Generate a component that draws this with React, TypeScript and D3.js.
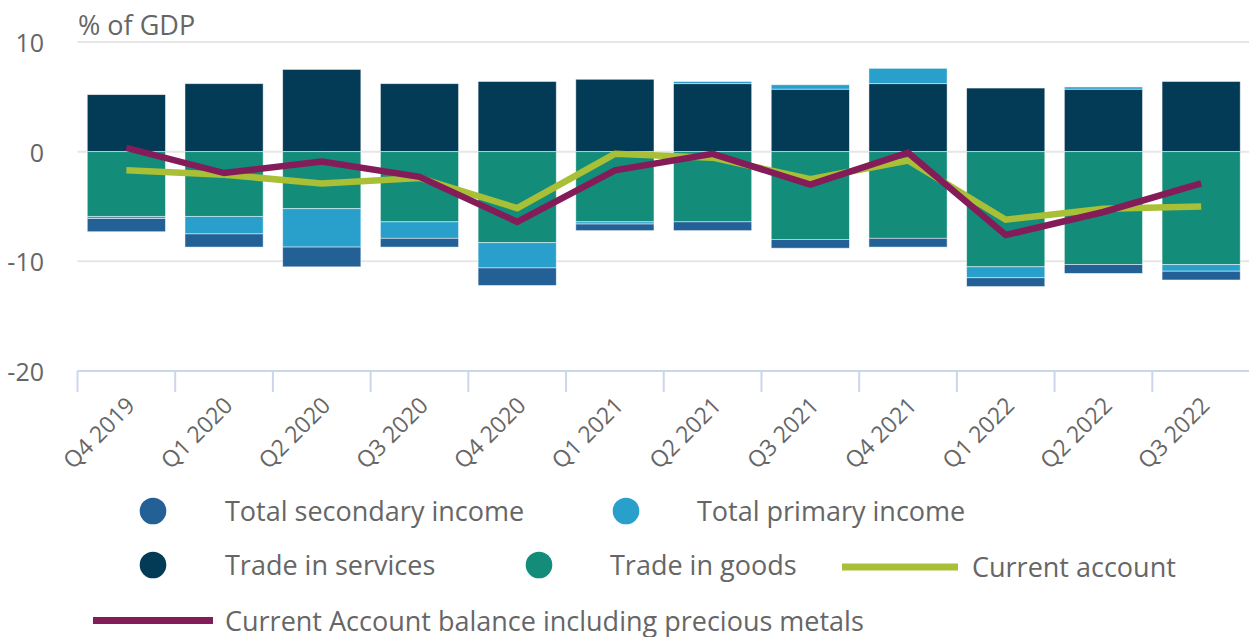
import React from "react";
import * as d3 from "d3";

const categories = [
  "Q4 2019", "Q1 2020", "Q2 2020", "Q3 2020", "Q4 2020", "Q1 2021",
  "Q2 2021", "Q3 2021", "Q4 2021", "Q1 2022", "Q2 2022", "Q3 2022",
];
const tradeInServices = [5.2, 6.2, 7.5, 6.2, 6.4, 6.6, 6.2, 5.7, 6.2, 5.8, 5.7, 6.4];
const tradeInGoods = [-5.9, -5.9, -5.2, -6.4, -8.3, -6.4, -6.4, -8.0, -7.9, -10.5, -10.3, -10.3];
const totalPrimaryIncome = [-0.2, -1.6, -3.5, -1.5, -2.3, -0.2, 0.2, 0.4, 1.4, -1.0, 0.2, -0.6];
const totalSecondaryIncome = [-1.2, -1.2, -1.8, -0.8, -1.6, -0.6, -0.8, -0.8, -0.8, -0.8, -0.8, -0.8];
const currentAccount = [-1.7, -2.1, -2.9, -2.4, -5.15, -0.2, -0.55, -2.5, -0.8, -6.2, -5.2, -5.0];
const currentAccountInclMetals = [0.35, -1.95, -0.9, -2.3, -6.4, -1.7, -0.2, -3.0, -0.1, -7.6, -5.5, -2.9];
const yTicks = [10, 0, -10, -20];
const yTitle = "% of GDP";

const C_SERV = "#033a55";
const C_GOODS = "#138c79";
const C_PRIM = "#29a0cc";
const C_SEC = "#226096";
const C_CA = "#a8bf36";
const C_CAM = "#851c5a";
const TEXT = "#666666";
const FONT = "'Open Sans', 'Noto Sans', sans-serif";

export default function App() {
  const W = 1249, H = 637;
  const x = d3.scaleBand<string>().domain(categories).range([77.5, 1250]).paddingInner(0.2).paddingOuter(0.1);
  const y = d3.scaleLinear().domain([-20, 10]).range([371, 42]);
  const step = x.step();

  const rows = categories.map((c, i) => ({
    cat: c,
    services: tradeInServices[i],
    goods: tradeInGoods[i],
    primary: totalPrimaryIncome[i],
    secondary: totalSecondaryIncome[i],
  }));
  const keys = ["services", "goods", "primary", "secondary"];
  const colors: Record<string, string> = { services: C_SERV, goods: C_GOODS, primary: C_PRIM, secondary: C_SEC };
  const series = d3.stack<any>().keys(keys).offset(d3.stackOffsetDiverging)(rows);

  const cx = (i: number) => (x(categories[i]) as number) + x.bandwidth() / 2;
  const line = d3.line<number>().x((_, i) => cx(i)).y((d) => y(d));

  const left = 77.5, right = 1249;

  const legendCircles = [
    { label: "Total secondary income", color: C_SEC, sx: 153, tx: 225, cy: 511 },
    { label: "Total primary income", color: C_PRIM, sx: 626, tx: 697, cy: 511 },
    { label: "Trade in services", color: C_SERV, sx: 153, tx: 225, cy: 565 },
    { label: "Trade in goods", color: C_GOODS, sx: 539, tx: 610, cy: 565 },
  ];
  const legendLines = [
    { label: "Current account", color: C_CA, x1: 842, x2: 958, tx: 972, cy: 567 },
    { label: "Current Account balance including precious metals", color: C_CAM, x1: 93, x2: 213, tx: 225, cy: 620.5 },
  ];

  return (
    <svg width={W} height={H} style={{ position: "absolute", left: 0, top: 0, background: "#fff" }} fontFamily={FONT}>
      {yTicks.filter((t) => t !== -20).map((t) => (
        <line key={t} x1={left} x2={right} y1={y(t)} y2={y(t)} stroke="#e6e6e6" strokeWidth={2} />
      ))}
      {yTicks.map((t) => (
        <text key={t} x={44} y={y(t) + 10} textAnchor="end" fontSize={25} fill={TEXT}>{t}</text>
      ))}
      <text x={78} y={34.5} fontSize={27} fill={TEXT}>{yTitle}</text>
      {series.map((s) => (
        <g key={s.key} fill={colors[s.key]}>
          {s.map((d, i) => {
            const y0 = y(d[0]), y1 = y(d[1]);
            const top = Math.min(y0, y1), h = Math.abs(y1 - y0);
            if (h < 0.01) return null;
            return (
              <rect key={i} x={x(categories[i])} y={top} width={x.bandwidth()} height={h}
                stroke="#ffffff" strokeOpacity={0.6} strokeWidth={0.8} />
            );
          })}
        </g>
      ))}
      <line x1={left} x2={right} y1={y(-20)} y2={y(-20)} stroke="#ccd6eb" strokeWidth={2} />
      {categories.map((c) => {
        const tx = (x(c) as number) - step * 0.1;
        return <line key={c} x1={tx} x2={tx} y1={y(-20)} y2={y(-20) + 21} stroke="#ccd6eb" strokeWidth={2} />;
      })}
      {categories.map((c, i) => (
        <text key={c} transform={`translate(${cx(i) + 10},${407}) rotate(-45)`} textAnchor="end" fontSize={23} fill={TEXT}>{c}</text>
      ))}
      <path d={line(currentAccount) || ""} fill="none" stroke={C_CA} strokeWidth={6.5} strokeLinejoin="miter" />
      <path d={line(currentAccountInclMetals) || ""} fill="none" stroke={C_CAM} strokeWidth={6.5} strokeLinejoin="miter" />
      {legendCircles.map((l) => (
        <g key={l.label}>
          <circle cx={l.sx} cy={l.cy} r={13.3} fill={l.color} />
          <text x={l.tx} y={l.cy + 10} fontSize={27} fill={TEXT}>{l.label}</text>
        </g>
      ))}
      {legendLines.map((l) => (
        <g key={l.label}>
          <line x1={l.x1} x2={l.x2} y1={l.cy} y2={l.cy} stroke={l.color} strokeWidth={7} />
          <text x={l.tx} y={l.cy + 10} fontSize={27} fill={TEXT}>{l.label}</text>
        </g>
      ))}
    </svg>
  );
}
